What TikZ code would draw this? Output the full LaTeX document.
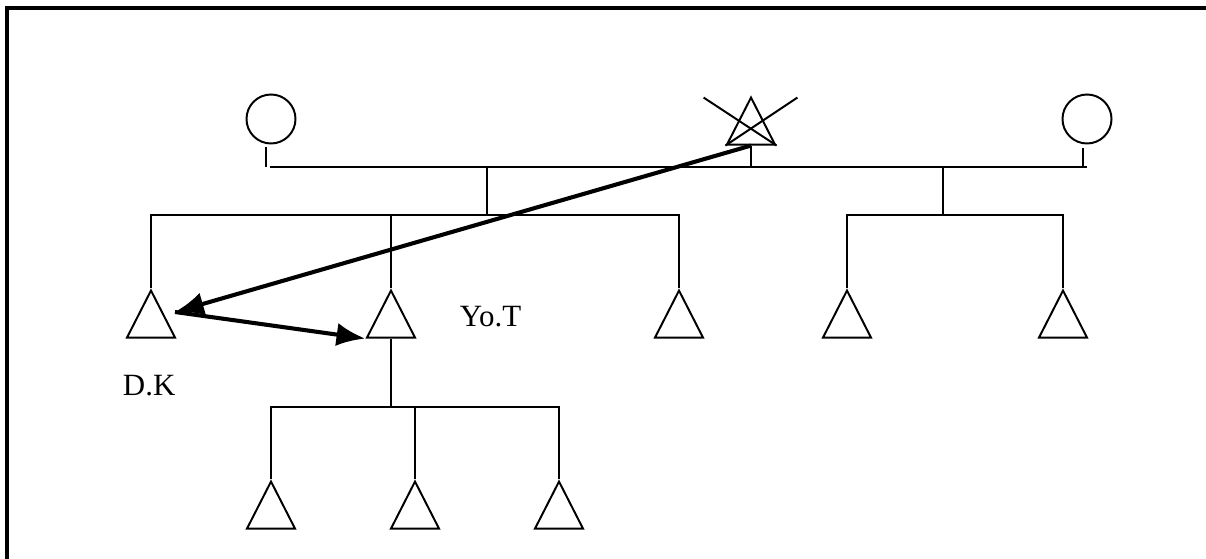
\documentclass[tikz,border=0pt]{standalone}
\usepackage{fontspec}
\setmainfont{Liberation Serif}
\usetikzlibrary{shapes.geometric,arrows.meta,calc}
\begin{document}
\begin{tikzpicture}[x=0.025cm,y=0.025cm,line width=1.4pt,
	female/.style={draw,circle,minimum size=1.225cm,inner sep=0},
	male/.style={draw,isosceles triangle,isosceles triangle stretches,shape border rotate=90,minimum width=1.2cm,minimum height=1.175cm,inner sep=0,anchor=apex},
	kin/.style={-{Latex[length=0.72cm,width=0.58cm]},line width=2.9pt},
	kinname/.style={font=\fontsize{22}{26}\selectfont,anchor=base west,inner sep=0}]
	\useasboundingbox (0,0) rectangle (1206,559);
	\draw[line width=2.2pt] (7,0) -- (7,551) -- (1206,551);
	\node[female] (gm1) at (271,440) {};
	\node[male] (gf) at (751,464) {};
	\node[female] (gm2) at (1087,440) {};
	\draw (gf.left corner) -- ++(72,48);
	\draw (gf.right corner) -- ++(-73,48);
	\coordinate (mL) at (270,392);
	\coordinate (mR) at (1087,392);
	\draw (mL) -- (mR);
	\draw ([xshift=-0.125cm,yshift=-0.07cm]gm1.south) coordinate (a) -- (a |- mL);
	\draw ([xshift=-0.1cm,yshift=-0.1cm]gm2.south) coordinate (b) -- (b |- mR);
	\draw (gf.lower side) -- (gf.lower side |- mL);
	\node[male] (s1) at (151,271) {};
	\node[male] (s2) at (391,271) {};
	\node[male] (s3) at (679,271) {};
	\node[male] (s4) at (847,271) {};
	\node[male] (s5) at (1063,271) {};
	\coordinate (j1) at (487,344);
	\coordinate (j2) at (943,344);
	\draw (j1 |- mL) -- (j1);
	\draw (s1.apex) |- (j1) -| (s3.apex);
	\draw (s2.apex) -- (s2.apex |- j1);
	\draw (j2 |- mL) -- (j2);
	\draw (s4.apex) |- (j2) -| (s5.apex);
	\node[male] (c1) at (271,80) {};
	\node[male] (c2) at (415,80) {};
	\node[male] (c3) at (559,80) {};
	\coordinate (j3) at (391,152);
	\draw (s2.lower side) -- (j3);
	\draw (c1.apex) |- (j3) -| (c3.apex);
	\draw (c2.apex) -- (c2.apex |- j3);
	\node[kinname] (dk) at (122,163) {D.K};
	\node[kinname] (yot) at (459,232) {Yo.T};
	\coordinate (t1) at (175,247);
	\draw[kin] (gf.lower side) -- (t1);
	\draw[kin] (t1) -- (s2.left corner);
\end{tikzpicture}
\end{document}
